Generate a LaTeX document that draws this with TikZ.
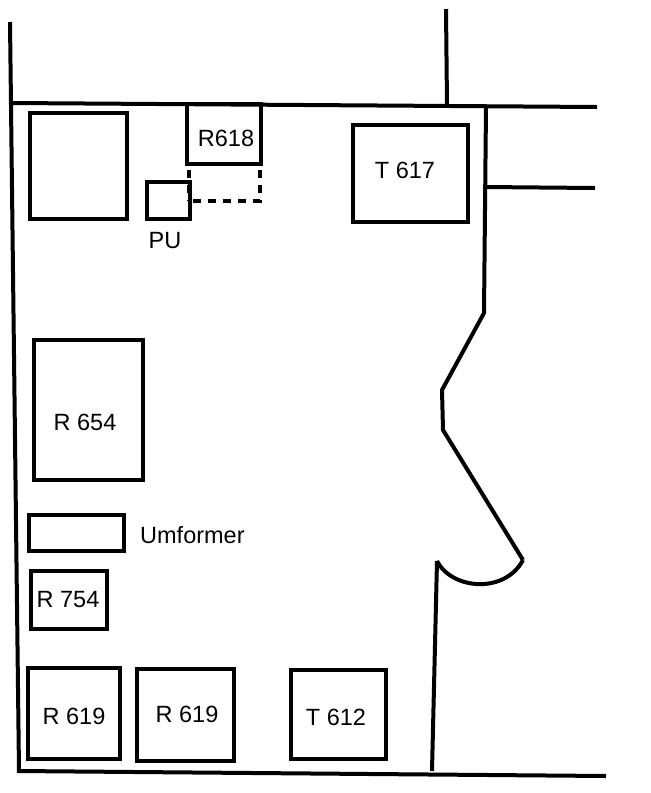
\documentclass[tikz,border=0pt]{standalone}
\usepackage{fontspec}
\setmainfont{Liberation Sans}
\usetikzlibrary{positioning}
\tikzset{room/.style=
   {rectangle,
    draw,
    line width=4pt,
    text centered,
    inner sep=0pt,
    outer sep=0pt,
    anchor=north west,
    font=\fontsize{23.5}{26}\selectfont}}
\tikzset{wall/.style = {draw, line width=4pt}}
\tikzset{hidden/.style = {draw, line width=4pt, dash pattern=on 8pt off 7pt}}
\tikzset{caption/.style = {inner sep=0pt, font=\fontsize{23.5}{26}\selectfont}}

\begin{document}
\begin{tikzpicture}[x=1pt, y=-1pt]

    \useasboundingbox (0,0) rectangle (651,793);

    % Walls
    \path [wall] (10,22) -- (19,771);
    \path [wall] (12,103) -- (597,107);
    \path [wall] (446,9) -- (447,105);
    \path [wall] (17,771) -- (606,776);
    \path [wall] (486,107) -- (484,313) -- (442,390) -- (443,430) -- (523,560);
    \path [wall] (485,187) -- (595,188);
    \path [wall] (432,771) -- (437,561);
    \path [wall] (437,561) .. controls (452,590) and (505,594) .. (523,560);

    % Blocks
    \node [room, minimum width=97pt, minimum height=106pt] (blank) at (30,113) {};
    \node [room, minimum width=74pt, minimum height=60pt] (r618) at (187,104) {};
    \node [room, minimum width=43pt, minimum height=37pt] (pu) at (147,182) {};
    \node [room, minimum width=115pt, minimum height=97pt] (t617) at (353,125) {};
    \node [room, minimum width=109pt, minimum height=140pt] (r654) at (34,340) {};
    \node [room, minimum width=95pt, minimum height=36pt] (umformer) at (29,515) {};
    \node [room, minimum width=76pt, minimum height=58pt] (r754) at (31,571) {};
    \node [room, minimum width=92pt, minimum height=91pt] (r619a) at (28,668) {};
    \node [room, minimum width=97pt, minimum height=92pt] (r619b) at (137,669) {};
    \node [room, minimum width=95pt, minimum height=89pt] (t612) at (291,670) {};

    % Labels
    \node [caption] (r618label) at (226,138) {R618};
    \node [caption] (pulabel) at (165,241) {PU};
    \node [caption, anchor=west] (umformerlabel) at (140,535) {Umformer};
    \node [caption] (t617label) at (405,170) {T 617};
    \node [caption] (r654label) at (85,422) {R 654};
    \node [caption] (r754label) at (68,600) {R 754};
    \node [caption] (r619alabel) at (74,716) {R 619};
    \node [caption] (r619blabel) at (187,714) {R 619};
    \node [caption] (t612label) at (336,717) {T 612};

    % Dashed part
    \path [hidden] (260,170) -- (260,201) -- (189,201);
    \path [hidden] (189,170) -- (189,201);

\end{tikzpicture}
\end{document}
